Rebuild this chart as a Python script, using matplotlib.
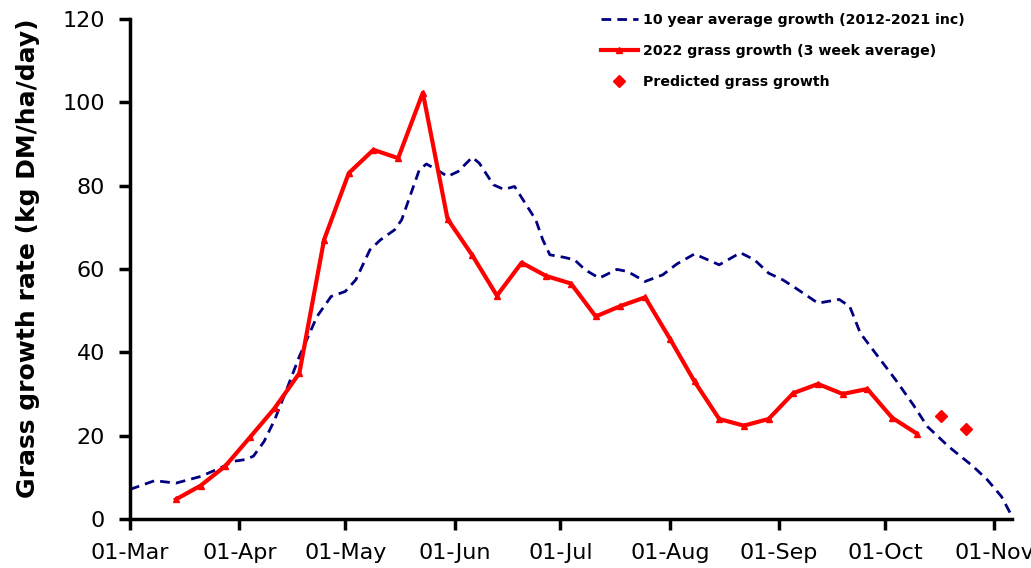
import matplotlib
matplotlib.use('Agg')
import matplotlib.pyplot as plt
import matplotlib.dates as mdates
from datetime import date, timedelta

# 2022 weekly 3 week average growth (kg DM/ha/day), from 14 Mar
grass_2022 = [4.7, 8.0, 12.7, 19.6, 26.6, 35.0, 67.0, 83.0, 88.6, 86.6, 102.3,
              72.0, 63.3, 53.6, 61.5, 58.3, 56.5, 48.6, 51.1, 53.2, 43.3, 33.0,
              24.0, 22.4, 24.0, 30.2, 32.4, 30.0, 31.2, 24.3, 20.5]
start_2022 = date(2022, 3, 14)

predicted_dates = [date(2022, 10, 17), date(2022, 10, 24)]
predicted = [24.7, 21.5]

# 10 year average, days after 1 March
avg_days = [0, 7, 13, 20, 26, 29, 33, 35, 38, 41, 44, 48, 53, 57, 61, 64, 68, 71,
            75, 77, 80, 82, 84, 87, 90, 93, 97, 99, 103, 106, 109, 115, 117, 119,
            123, 126, 129, 133, 138, 141, 146, 151, 155, 160, 167, 173, 177, 181,
            185, 188, 195, 201, 204, 207, 212, 217, 222, 226, 232, 239, 243, 247, 250]
avg_growth = [7.1, 9.2, 8.6, 10.2, 12.4, 13.8, 14.3, 15.1, 18.6, 23.8, 30.2, 39.0,
              48.6, 53.4, 54.6, 57.4, 64.6, 67.0, 69.4, 71.8, 79.0, 83.8, 85.2, 83.8,
              82.2, 83.4, 86.8, 85.4, 80.2, 79.1, 79.8, 71.8, 67.0, 63.4, 62.8, 62.2,
              59.8, 57.8, 59.9, 59.4, 57.0, 58.6, 61.2, 63.6, 61.0, 63.9, 62.2, 59.0,
              57.4, 55.8, 51.8, 52.7, 51.0, 44.6, 39.0, 33.4, 27.4, 22.2, 17.4, 12.6,
              9.4, 5.4, 0.6]

month_ticks = [date(2022, m, 1) for m in range(3, 12)]

dates_2022 = [start_2022 + timedelta(days=7 * i) for i in range(len(grass_2022))]
avg_dates = [date(2022, 3, 1) + timedelta(days=d) for d in avg_days]

fig = plt.figure(figsize=(10.31, 5.68), dpi=100)
ax = fig.add_axes([0.1261, 0.0863, 0.8555, 0.8803])

ax.plot(avg_dates, avg_growth, color='#000080', linestyle=(0, (3.5, 2.2)), linewidth=2,
        label='10 year average growth (2012-2021 inc)')
ax.plot(dates_2022, grass_2022, color='#ff0000', linewidth=3, marker='^', markersize=4,
        label='2022 grass growth (3 week average)')
ax.plot(predicted_dates, predicted, color='#ff0000', linestyle='none', marker='D',
        markersize=6, label='Predicted grass growth')

ax.set_xlim(date(2022, 3, 1), date(2022, 11, 6))
ax.set_ylim(0, 120)
ax.set_yticks(range(0, 121, 20))
ax.set_xticks(month_ticks)
ax.xaxis.set_major_formatter(mdates.DateFormatter('%d-%b'))

for s in ['top', 'right']:
    ax.spines[s].set_visible(False)
for s in ['left', 'bottom']:
    ax.spines[s].set_linewidth(2.5)
ax.tick_params(axis='both', labelsize=16, width=2.5, length=8, direction='out')
ax.tick_params(axis='y', pad=10)
ax.tick_params(axis='x', pad=9)

ax.set_ylabel('Grass growth rate (kg DM/ha/day)', fontsize=18, fontweight='bold')
ax.yaxis.set_label_coords(-0.102, 0.522)

leg = ax.legend(loc='upper left', bbox_to_anchor=(588 / 1031, 1 - 0 / 568),
                bbox_transform=fig.transFigure, frameon=False, handlelength=2.6,
                handletextpad=0.4, labelspacing=1.2, prop={'weight': 'bold', 'size': 10.2})

fig.savefig('out.png', dpi=100)
